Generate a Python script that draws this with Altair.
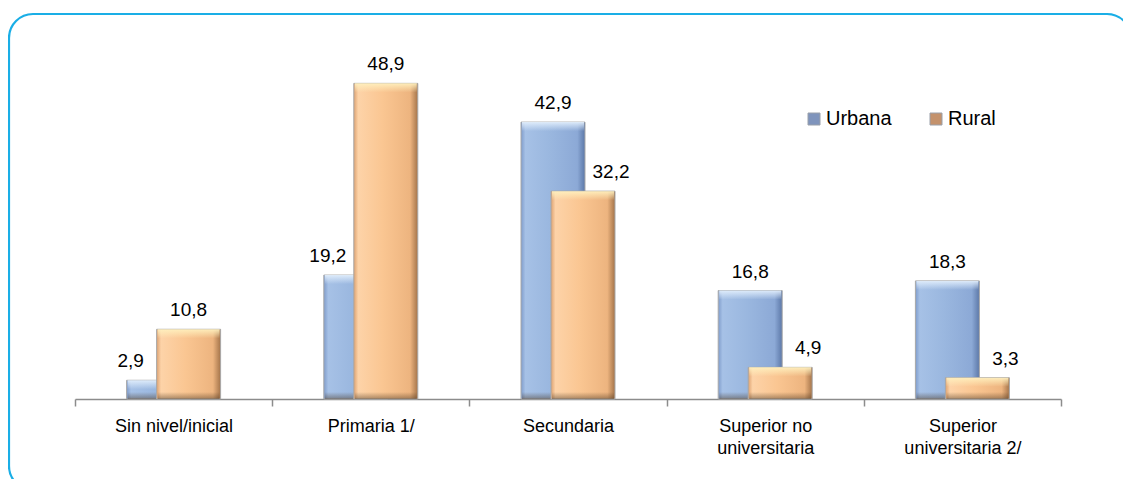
import altair as alt
import pandas as pd

categories = ["Sin nivel/inicial", "Primaria 1/", "Secundaria",
              "Superior no\nuniversitaria", "Superior\nuniversitaria 2/"]
urbana = [2.9, 19.2, 42.9, 16.8, 18.3]
rural = [10.8, 48.9, 32.2, 4.9, 3.3]
series = ["Urbana", "Rural"]

df = pd.DataFrame({"cat": categories, "Urbana": urbana, "Rural": rural})

FONT = "Liberation Sans, Arial, sans-serif"
BW = 64
OFF = 15

xenc = alt.X("cat:N", sort=categories, title=None,
             scale=alt.Scale(paddingInner=0, paddingOuter=0),
             axis=alt.Axis(labelAngle=0, tickBand="extent", tickSize=7,
                           tickColor="#8C8C8C", domainColor="#8C8C8C",
                           domainWidth=1.5, tickWidth=1.5,
                           labelFont=FONT, labelFontSize=18, labelColor="#000000",
                           labelPadding=11, labelLineHeight=22,
                           labelExpr="split(datum.label, '\\n')"))
yscale = alt.Scale(domain=[0, 55], nice=False, zero=True)


def hgrad(stops):
    return alt.Gradient(gradient="linear", x1=0, x2=1, y1=0, y2=0,
                        stops=[alt.GradientStop(color=c, offset=o) for o, c in stops])


def vgrad(stops):
    return alt.Gradient(gradient="linear", x1=0, x2=0, y1=0, y2=1,
                        stops=[alt.GradientStop(color=c, offset=o) for o, c in stops])


blue_main = hgrad([(0, "#7F9CCB"), (0.07, "#A6C1E6"), (0.45, "#9AB7DF"),
                   (0.88, "#8CA9D6"), (1, "#5C78A8")])
orange_main = hgrad([(0, "#DDA271"), (0.07, "#FDD3A8"), (0.45, "#FAC692"),
                     (0.88, "#EDB47F"), (1, "#A4744A")])
blue_top = vgrad([(0, "rgba(225,238,252,0.95)"), (1, "rgba(225,238,252,0)")])
orange_top = vgrad([(0, "rgba(255,240,190,0.95)"), (1, "rgba(255,240,190,0)")])
shade_bot = vgrad([(0, "rgba(70,50,30,0)"), (1, "rgba(70,50,30,0.45)")])

layers = []
for name, off, main, top in [("Urbana", -OFF, blue_main, blue_top),
                             ("Rural", OFF, orange_main, orange_top)]:
    layers.append(alt.Chart(df).mark_bar(width=BW, xOffset=off, color=main,
                                         stroke="#A8A8A8", strokeWidth=1).encode(
        x=xenc, y=alt.Y(f"{name}:Q", scale=yscale, axis=None)))
    layers.append(alt.Chart(df).mark_bar(width=BW - 2, xOffset=off, color=top,
                                         y2Offset=9).encode(
        x=xenc, y=alt.Y(f"{name}:Q", scale=yscale, axis=None), y2=alt.Y2(f"{name}:Q")))
    layers.append(alt.Chart(df).mark_bar(width=BW - 2, xOffset=off, color=shade_bot,
                                         yOffset=-7).encode(
        x=xenc, y=alt.Y("z:Q", scale=yscale, axis=None), y2=alt.Y2("z:Q")
    ).transform_calculate(z="0"))

labfmt = "replace(format(datum.v, '.1f'), '.', ',')"
for name, other, taller_dx, shorter_dx in [("Urbana", "Rural", -OFF, -43),
                                            ("Rural", "Urbana", OFF, 43)]:
    for cond, dx in [(f"datum['{name}'] >= datum['{other}']", taller_dx),
                     (f"datum['{name}'] < datum['{other}']", shorter_dx)]:
        layers.append(alt.Chart(df).transform_filter(cond).transform_calculate(
            v=f"datum['{name}']").transform_calculate(lab=labfmt).mark_text(
            font=FONT, fontSize=19, color="#000000", dx=dx, dy=-13,
            baseline="alphabetic", align="center").encode(
            x=xenc, y=alt.Y(f"{name}:Q", scale=yscale, axis=None), text="lab:N"))

# legend (invisible marks, visible legend)
legend_layer = alt.Chart(df).transform_fold(series, as_=["serie", "val"]).mark_square(
    opacity=0).encode(
    x=xenc, y=alt.Y("val:Q", scale=yscale, axis=None),
    color=alt.Color("serie:N", sort=series,
                    scale=alt.Scale(domain=series, range=["#7F94BC", "#C4926C"]),
                    legend=alt.Legend(title=None, orient="none", direction="horizontal",
                                      legendX=729, legendY=65, symbolType="square",
                                      symbolSize=144, symbolOpacity=1,
                                      symbolStrokeColor="#9AA0AA", symbolStrokeWidth=1,
                                      labelFont=FONT,
                                      labelFontSize=20, labelColor="#000000",
                                      labelOffset=2, columnPadding=34, padding=0)))
layers.append(legend_layer)

border = alt.Chart(pd.DataFrame({"a": [0]})).mark_rect(
    filled=False, stroke="#1AAEE6", strokeWidth=2.2, cornerRadius=24).encode(
    x=alt.value(-66), x2=alt.value(1056), y=alt.value(-30), y2=alt.value(446))
layers.append(border)

chart = alt.layer(*layers).properties(
    width=986, height=355,
    autosize=alt.AutoSizeParams(type="none"),
    padding={"left": 67, "top": 36, "right": 62, "bottom": 80},
    background="#ffffff",
).configure_view(strokeWidth=0)

chart.save("out.html", embed_options={"renderer": "svg", "actions": False})
